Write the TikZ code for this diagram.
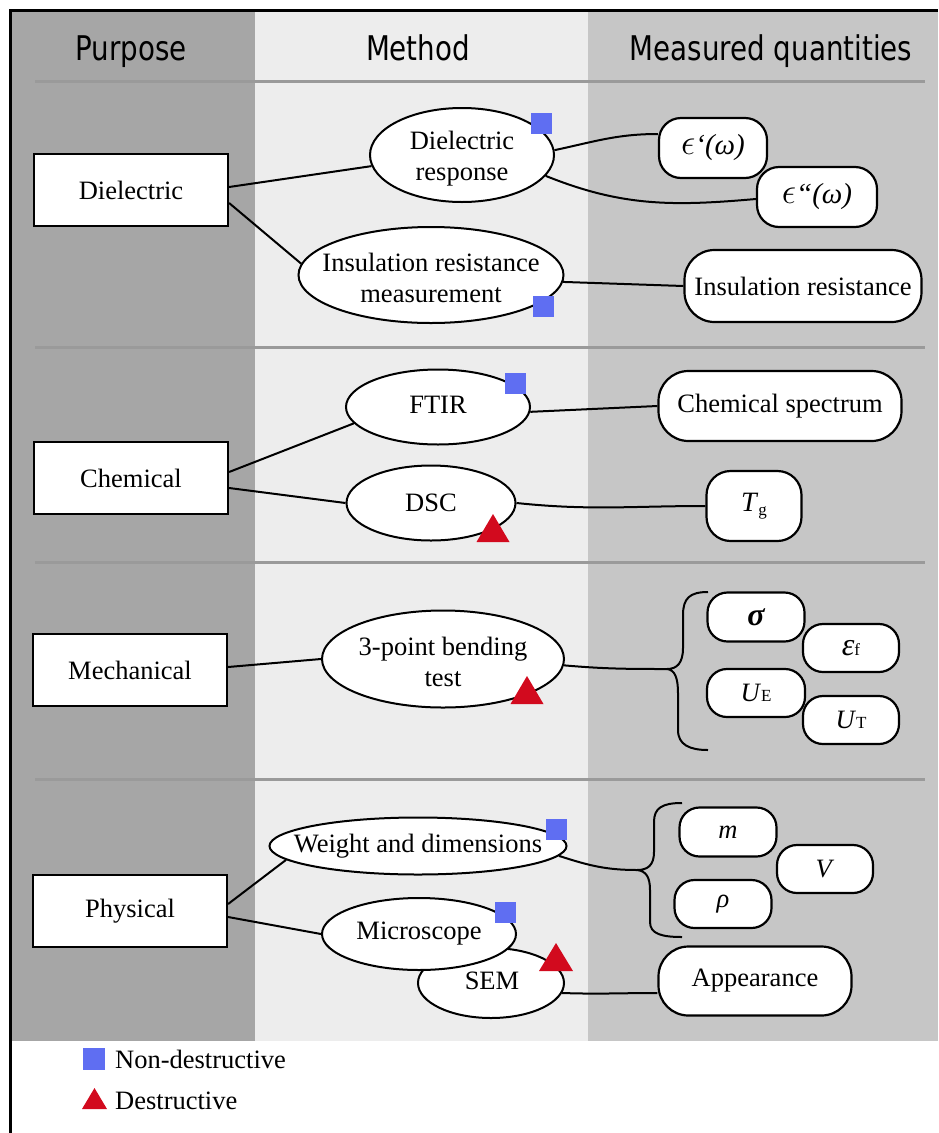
\documentclass[tikz,border=0pt]{standalone}
\usepackage{fontspec}
\usepackage{graphicx}
\setmainfont{Liberation Serif}
\newfontfamily\headfont{DejaVu Sans}
\usetikzlibrary{shapes.geometric,calc}
\definecolor{colA}{HTML}{A6A6A6}
\definecolor{colB}{HTML}{EDEDED}
\definecolor{colC}{HTML}{C6C6C6}
\definecolor{sepgray}{HTML}{9A9A9A}
\definecolor{ndblue}{HTML}{5F6EF2}
\definecolor{dred}{HTML}{D20A1E}
\newcommand{\sbx}[1]{{\fontsize{17}{20}\selectfont\upshape #1}}
\newcommand{\lunate}{\scalebox{1.45}{$\epsilon$}}
\tikzset{
 purp/.style={draw, line width=2.2pt, fill=white, rectangle, minimum width=194pt, minimum height=72pt, inner sep=0pt, font=\fontsize{26.5}{29}\selectfont},
 meth/.style={draw, line width=2pt, fill=white, ellipse, inner sep=0pt},
 mtext/.style={inner sep=0pt, align=center, font=\fontsize{26.5}{31}\selectfont},
 qty/.style={draw, line width=2.2pt, fill=white, rectangle, rounded corners=20pt, inner sep=0pt, font=\fontsize{26.5}{29}\selectfont},
 conn/.style={line width=2pt},
 head/.style={anchor=base, inner sep=0pt, font=\headfont\fontsize{34}{40}\selectfont},
 sepline/.style={sepgray, line width=3pt},
 legtext/.style={anchor=base west, inner sep=0pt, font=\fontsize{26.5}{29}\selectfont},
}
\begin{document}
\begin{tikzpicture}[x=1pt,y=1pt]
\useasboundingbox (0,0) rectangle (938,-1133);
% columns
\fill[colA] (12,-12) rectangle (255,-1041);
\fill[colB] (255,-12) rectangle (588,-1041);
\fill[colC] (588,-12) rectangle (938,-1041);
% frame
\draw[line width=3pt] (10,-1133) -- (10,-10) -- (938,-10);
% separator lines
\draw[sepline] (35,-81) -- (925,-81);
\draw[sepline] (35,-347) -- (925,-347);
\draw[sepline] (35,-562) -- (925,-562);
\draw[sepline] (35,-779) -- (925,-779);
% headers
\node[head] (h1) at (131,-60) {\scalebox{0.815}[1]{Purpose}};
\node[head] (h2) at (418,-60) {\scalebox{0.815}[1]{Method}};
\node[head] (h3) at (771,-60) {\scalebox{0.815}[1]{Measured quantities}};
% purpose boxes
\node[purp] (pd) at (131,-190) {Dielectric};
\node[purp] (pc) at (131,-478) {Chemical};
\node[purp] (pm) at (130,-670) {Mechanical};
\node[purp] (pp) at (130,-911) {Physical};
% method ellipses
\node[meth, minimum width=184pt, minimum height=94pt] (dr) at (462,-155) {};
\node[mtext] (drt) at (462,-159) {Dielectric\\response};
\node[meth, minimum width=265pt, minimum height=96pt] (ir) at (431,-275) {};
\node[mtext] (irt) at (431,-278) {Insulation resistance\\measurement};
\node[meth, minimum width=184pt, minimum height=75pt] (ftir) at (438,-407) {};
\node[mtext] (ftirt) at (438,-405) {FTIR};
\node[meth, minimum width=169pt, minimum height=75pt] (dsc) at (431,-503) {};
\node[mtext] (dsct) at (dsc) {DSC};
\node[meth, minimum width=242pt, minimum height=97pt] (tpb) at (443,-659) {};
\node[mtext] (tpbt) at (443,-662) {3-point bending\\test};
\node[meth, minimum width=297pt, minimum height=57pt] (wd) at (418,-846) {};
\node[mtext] (wdt) at (wd) {Weight and dimensions};
\node[meth, minimum width=146pt, minimum height=70pt] (sem) at (491,-983) {};
\node[mtext] (semt) at (492,-981) {SEM};
\node[meth, minimum width=194pt, minimum height=72pt] (mic) at (419,-934) {};
\node[mtext] (mict) at (mic) {Microscope};
% quantities
\node[qty, minimum width=108pt, minimum height=60pt, rounded corners=22pt, font=\fontsize{29}{31}\selectfont] (e1) at (713,-148) {\itshape \lunate‘(ω)};
\node[qty, minimum width=120pt, minimum height=60pt, rounded corners=22pt, font=\fontsize{29}{31}\selectfont] (e2) at (817,-197) {\itshape \lunate“(ω)};
\node[qty, minimum width=237pt, minimum height=72pt, rounded corners=30pt] (irr) at (803,-286) {Insulation resistance};
\node[qty, minimum width=243pt, minimum height=70pt, rounded corners=30pt] (cs) at (780,-406) {Chemical spectrum};
\node[qty, minimum width=95pt, minimum height=70pt, rounded corners=24pt] (tg) at (754,-506) {\fontsize{28}{30}\selectfont\textit{T}\raisebox{-4pt}{\sbx{g}}};
\node[qty, minimum width=97pt, minimum height=49pt] (sig) at (756,-617) {\fontsize{32}{34}\selectfont\bfseries\itshape σ};
\node[qty, minimum width=96pt, minimum height=48pt] (ef) at (851,-648) {{\fontsize{32}{34}\selectfont\itshape ε}\sbx{f}};
\node[qty, minimum width=98pt, minimum height=48pt] (ue) at (756,-693) {\textit{U}\sbx{E}};
\node[qty, minimum width=96pt, minimum height=48pt] (ut) at (851,-720) {\textit{U}\sbx{T}};
\node[qty, minimum width=97pt, minimum height=49pt] (mm) at (728,-832) {\textit{m}};
\node[qty, minimum width=96pt, minimum height=48pt] (vv) at (825,-869) {\textit{V}};
\node[qty, minimum width=97pt, minimum height=48pt] (rho) at (723,-904) {\textit{ρ}};
\node[qty, minimum width=193pt, minimum height=69pt, rounded corners=30pt] (app) at (755,-981) {Appearance};
% brace tips
\coordinate (bm) at (667,-669);
\coordinate (bp) at (637,-870);
% braces
\draw[conn] (708,-592) .. controls (690,-592) and (683,-598) .. (683,-615) -- (683,-648)
  .. controls (683,-663) and (677,-669) .. (bm)
  .. controls (675,-670) and (678,-678) .. (678,-693) -- (678,-730)
  .. controls (678,-745) and (690,-750) .. (708,-750);
\draw[conn] (682,-803) .. controls (662,-803) and (654,-808) .. (654,-822) -- (654,-852)
  .. controls (654,-865) and (648,-870) .. (bp)
  .. controls (646,-871) and (650,-877) .. (650,-890) -- (650,-922)
  .. controls (650,-934) and (662,-937) .. (682,-937);
% connectors
\draw[conn] ($(pd.east)+(0,3)$) -- (dr.187);
\draw[conn] ($(pd.east)+(0,-13)$) -- (ir.175);
\draw[conn] (dr.3) to[out=12,in=180] ($(e1.west)+(0,14)$);
\draw[conn] (dr.-14) to[out=-22,in=185] ($(e2.west)+(0,-2)$);
\draw[conn] (ir.-3) -- (irr.west);
\draw[conn] ($(pc.east)+(0,6)$) -- (ftir.191);
\draw[conn] ($(pc.east)+(0,-10)$) -- (dsc.west);
\draw[conn] (ftir.-3) -- (cs.west);
\draw[conn] (dsc.east) to[out=-6,in=180] (tg.west);
\draw[conn] ($(pm.east)+(0,3)$) -- (tpb.west);
\draw[conn] (tpb.-3) to[out=-5,in=180] (bm);
\draw[conn] ($(pp.east)+(0,7)$) -- (wd.186);
\draw[conn] ($(pp.east)+(0,-6)$) -- (mic.west);
\draw[conn] (wd.-4) to[out=-18,in=180] (bp);
\draw[conn] (sem.-8) to[out=-2,in=180] ($(app.west)+(0,-12)$);
% markers: non-destructive squares
\fill[ndblue] (530.5,-112.5) rectangle ++(21,-21);
\fill[ndblue] (532.5,-295.5) rectangle ++(21,-21);
\fill[ndblue] (504.5,-372.5) rectangle ++(21,-21);
\fill[ndblue] (545.5,-818.5) rectangle ++(21,-21);
\fill[ndblue] (494.5,-901.5) rectangle ++(21,-21);
% destructive triangles
\fill[dred] (493,-514) -- (509.5,-542) -- (476.5,-542) -- cycle;
\fill[dred] (527,-676) -- (543.5,-704) -- (510.5,-704) -- cycle;
\fill[dred] (556,-943) -- (573,-971) -- (539,-971) -- cycle;
% legend
\fill[ndblue] (83,-1048) rectangle (105,-1070);
\node[legtext] (l1) at (115,-1068) {Non-destructive};
\fill[dred] (94.5,-1088) -- (107,-1109) -- (82,-1109) -- cycle;
\node[legtext] (l2) at (115,-1109) {Destructive};
\end{tikzpicture}
\end{document}
